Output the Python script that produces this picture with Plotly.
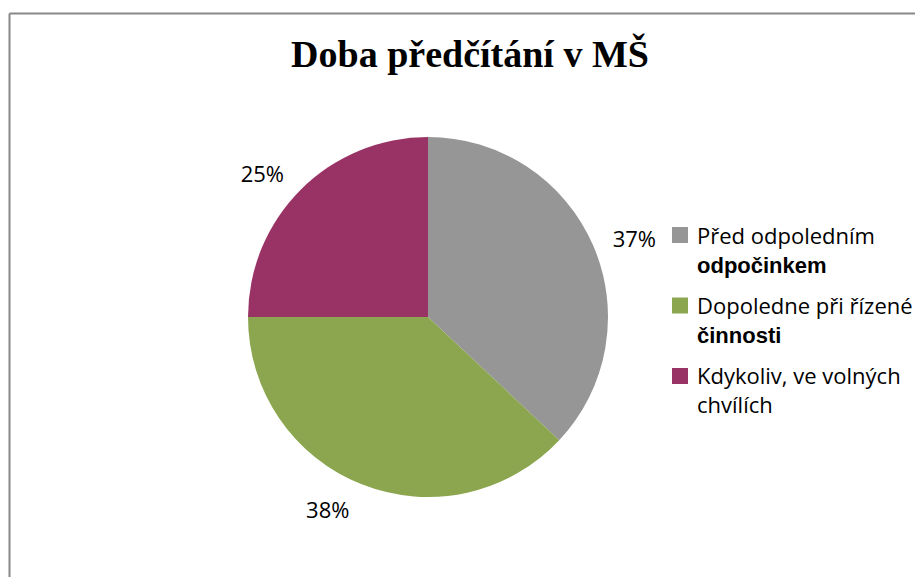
import plotly.graph_objects as go

labels = ["Před odpoledním<br><span style='font-family:Liberation Sans'><b>odpočinkem</b></span>",
          "Dopoledne při řízené<br><span style='font-family:Liberation Sans'><b>činnosti</b></span>",
          "Kdykoliv, ve volných<br>chvílích"]
values = [37, 38, 25]
colors = ["#969696", "#8BA64E", "#993366"]
title = "Doba předčítání v MŠ"

W, H = 923, 577
OFF = 8  # browser default body margin
cx, cy, r = 428 - OFF, 317 - OFF, 180
r_lbl = 193  # radius of the invisible pie that carries the outside percent labels

font_main = "Open Sans, sans-serif"


def dom(rad):
    return dict(x=[(cx - rad) / W, (cx + rad) / W], y=[(H - cy - rad) / H, (H - cy + rad) / H])


fig = go.Figure()
# invisible, slightly larger pie: only carries the percent labels
fig.add_trace(go.Pie(
    labels=labels, values=values, sort=False, direction="clockwise", rotation=0,
    marker=dict(colors=["rgba(0,0,0,0)"] * len(values), line=dict(width=0)),
    texttemplate="%{percent:.0%}", textposition="outside",
    outsidetextfont=dict(family=font_main, size=22, color="#000"),
    domain=dom(r_lbl), showlegend=False, hoverinfo="skip",
))
# visible pie
fig.add_trace(go.Pie(
    labels=labels, values=values, sort=False, direction="clockwise", rotation=0,
    marker=dict(colors=colors, line=dict(width=0)),
    textinfo="none", domain=dom(r), showlegend=False, hoverinfo="label+percent",
))

# legend (built from labels / colors)
legend_x_text = 695 - OFF
legend_x_box = 672 - OFF
box = 16
first_line = 234 - OFF
step = 70.5
line_h = 29
shapes = []
annotations = []
for i, (lab, col) in enumerate(zip(labels, colors)):
    y1 = first_line + step * i
    annotations.append(dict(
        text=lab, x=legend_x_text / W, y=1 - (y1 + line_h / 2) / H, xref="paper", yref="paper",
        xanchor="left", yanchor="middle", align="left", showarrow=False,
        font=dict(family=font_main, size=22, color="#000")))
    yc = y1 + 1
    shapes.append(dict(type="rect", xref="paper", yref="paper",
                       x0=legend_x_box / W, x1=(legend_x_box + box) / W,
                       y0=1 - (yc - box / 2) / H, y1=1 - (yc + box / 2) / H,
                       fillcolor=col, line=dict(width=0)))

shapes += [
    dict(type="line", xref="paper", yref="paper", x0=(9.5 - OFF) / W, x1=1.05,
         y0=1 - (13.5 - OFF) / H, y1=1 - (13.5 - OFF) / H,
         line=dict(color="#888888", width=2)),
    dict(type="line", xref="paper", yref="paper", x0=(9.5 - OFF) / W, x1=(9.5 - OFF) / W,
         y0=-0.05, y1=1 - (13.5 - OFF) / H,
         line=dict(color="#888888", width=2)),
]

fig.update_layout(
    width=W, height=H, margin=dict(l=0, r=0, t=0, b=0),
    paper_bgcolor="white", plot_bgcolor="white",
    title=dict(text="<b>" + title + "</b>", x=(470 - OFF) / W, xanchor="center",
               y=1 - (57 - OFF - 3) / H, yanchor="middle",
               font=dict(family="Liberation Serif, serif", size=38, color="#000")),
    shapes=shapes, annotations=annotations, showlegend=False,
)

fig.write_html("out.html")
